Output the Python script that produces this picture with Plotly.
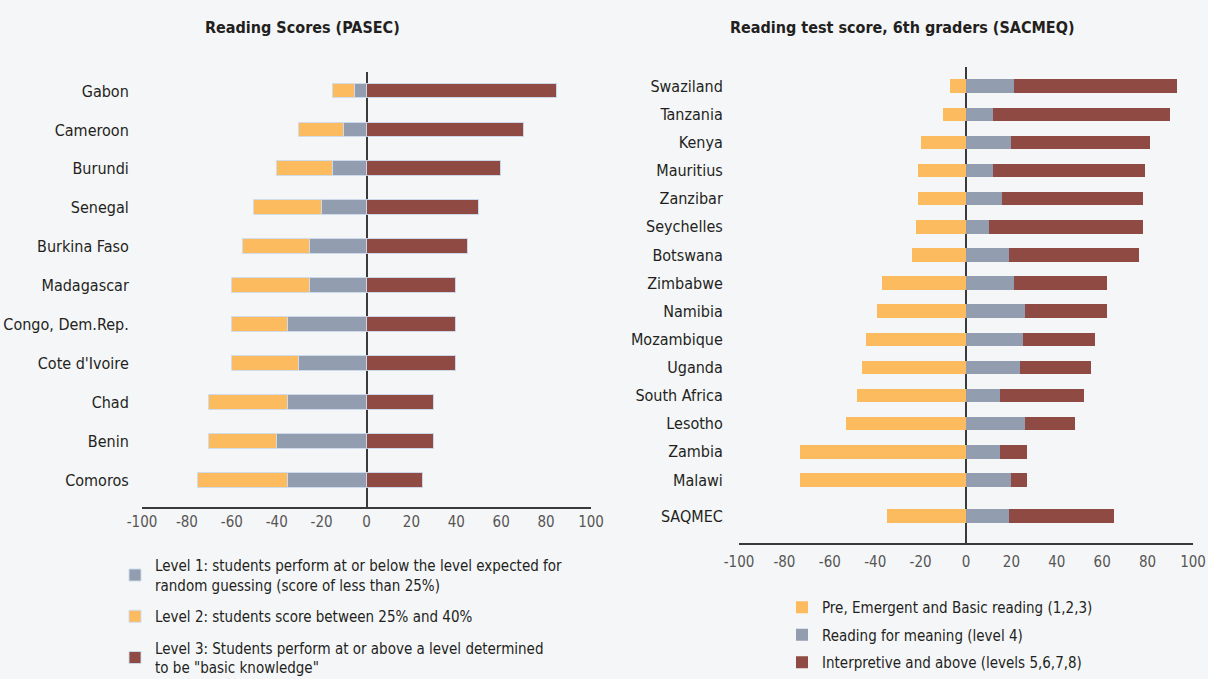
import plotly.graph_objects as go

# ---- Data: PASEC ----
pasec_countries = ["Gabon", "Cameroon", "Burundi", "Senegal", "Burkina Faso", "Madagascar",
                   "Congo, Dem.Rep.", "Cote d'Ivoire", "Chad", "Benin", "Comoros"]
pasec_level1 = [5, 10, 15, 20, 25, 25, 35, 30, 35, 40, 35]
pasec_level2 = [10, 20, 25, 30, 30, 35, 25, 30, 35, 30, 40]
pasec_level3 = [85, 70, 60, 50, 45, 40, 40, 40, 30, 30, 25]

# ---- Data: SACMEQ ----
sacmeq_countries = ["Swaziland", "Tanzania", "Kenya", "Mauritius", "Zanzibar", "Seychelles",
                    "Botswana", "Zimbabwe", "Namibia", "Mozambique", "Uganda", "South Africa",
                    "Lesotho", "Zambia", "Malawi", "SAQMEC"]
sacmeq_basic = [7, 10, 20, 21, 21, 22, 24, 37, 39, 44, 46, 48, 53, 73, 73, 35]
sacmeq_meaning = [21, 12, 20, 12, 16, 10, 19, 21, 26, 25, 24, 15, 26, 15, 20, 19]
sacmeq_interp = [72, 78, 61, 67, 62, 68, 57, 41, 36, 32, 31, 37, 22, 12, 7, 46]

x_ticks = [-100, -80, -60, -40, -20, 0, 20, 40, 60, 80, 100]

YELLOW = "#FDBB60"
GREY = "#939DB0"
RED = "#8F4A44"
BG = "#F5F6F8"
FONT = "DejaVu Sans Condensed, Roboto, sans-serif"
TXT = "#231F20"
OUTLINE = dict(color="rgba(205,220,238,0.9)", width=1)

W, H = 1208, 679

pasec_y = list(range(len(pasec_countries)))
sacmeq_y = [i + (0.28 if c == "SAQMEC" else 0) for i, c in enumerate(sacmeq_countries)]

fig = go.Figure()

# Left panel traces
fig.add_trace(go.Bar(
    y=pasec_y, x=[-v for v in pasec_level1], orientation="h", width=0.38,
    marker=dict(color=GREY, line=OUTLINE), xaxis="x", yaxis="y", legend="legend",
    legendgroup="a1",
    name="Level 1: students perform at or below the level expected for<br>random guessing (score of less than 25%)"))
fig.add_trace(go.Bar(
    y=pasec_y, x=[-v for v in pasec_level2], orientation="h", width=0.38,
    marker=dict(color=YELLOW, line=OUTLINE), xaxis="x", yaxis="y", legend="legend",
    legendgroup="a2",
    name="Level 2: students score between 25% and 40%"))
fig.add_trace(go.Bar(
    y=pasec_y, x=pasec_level3, orientation="h", width=0.38,
    marker=dict(color=RED, line=OUTLINE), xaxis="x", yaxis="y", legend="legend",
    legendgroup="a3",
    name="Level 3: Students perform at or above a level determined<br>to be \"basic knowledge\""))

# Right panel traces
fig.add_trace(go.Bar(
    y=sacmeq_y, x=[-v for v in sacmeq_basic], orientation="h", width=0.48,
    marker=dict(color=YELLOW, line=dict(width=0)), xaxis="x2", yaxis="y2", legend="legend2",
    legendgroup="b1", name="Pre, Emergent and Basic reading (1,2,3)"))
fig.add_trace(go.Bar(
    y=sacmeq_y, x=sacmeq_meaning, orientation="h", width=0.48,
    marker=dict(color=GREY, line=dict(width=0)), xaxis="x2", yaxis="y2", legend="legend2",
    legendgroup="b2", name="Reading for meaning (level 4)"))
fig.add_trace(go.Bar(
    y=sacmeq_y, x=sacmeq_interp, orientation="h", width=0.48,
    marker=dict(color=RED, line=dict(width=0)), xaxis="x2", yaxis="y2", legend="legend2",
    legendgroup="b3", name="Interpretive and above (levels 5,6,7,8)"))

def px_x(p):
    return p / W

def px_y(p):
    return 1 - p / H

xaxis_common = dict(
    range=[-100, 100], tickvals=x_ticks, ticktext=[str(t) for t in x_ticks],
    showgrid=False, zeroline=True, zerolinecolor="#3a3a3a", zerolinewidth=1.5,
    showline=True, linecolor="#3a3a3a", linewidth=1.5, ticks="", automargin=False,
    tickfont=dict(family=FONT, size=15, color="#555555"), fixedrange=True,
)
yaxis_common = dict(
    showgrid=False, zeroline=False, showline=False, ticks="outside", automargin=False,
    tickcolor="rgba(0,0,0,0)", tickfont=dict(family=FONT, size=16, color=TXT),
    fixedrange=True,
)

fig.update_layout(
    width=W, height=H,
    margin=dict(l=0, r=0, t=0, b=0, autoexpand=False),
    paper_bgcolor=BG, plot_bgcolor=BG,
    barmode="relative", bargap=0,
    font=dict(family=FONT, color=TXT),
    xaxis=dict(domain=[px_x(142), px_x(591)], anchor="y", **xaxis_common),
    yaxis=dict(domain=[px_y(507), px_y(72)], anchor="x", range=[10.69, -0.49],
               tickvals=pasec_y, ticktext=pasec_countries, ticklen=9, **yaxis_common),
    xaxis2=dict(domain=[px_x(739), px_x(1193)], anchor="y2", ticklabelstandoff=4,
                **xaxis_common),
    yaxis2=dict(domain=[px_y(543), px_y(67)], anchor="x2", range=[16.24, -0.68],
                tickvals=sacmeq_y, ticktext=sacmeq_countries, ticklen=12, **yaxis_common),
    legend=dict(x=px_x(115), y=px_y(549), xanchor="left", yanchor="top",
                bgcolor="rgba(0,0,0,0)", font=dict(family=FONT, size=15, color=TXT),
                traceorder="grouped", tracegroupgap=9, itemwidth=30),
    legend2=dict(x=px_x(782), y=px_y(591), xanchor="left", yanchor="top",
                 bgcolor="rgba(0,0,0,0)", font=dict(family=FONT, size=15, color=TXT),
                 traceorder="grouped", tracegroupgap=5, itemwidth=30),
    annotations=[
        dict(text="<b>Reading Scores (PASEC)</b>", x=px_x(302), y=px_y(28),
             xref="paper", yref="paper", showarrow=False, xanchor="center", yanchor="middle",
             font=dict(family=FONT, size=16, color=TXT)),
        dict(text="<b>Reading test score, 6th graders (SACMEQ)</b>", x=px_x(902), y=px_y(28),
             xref="paper", yref="paper", showarrow=False, xanchor="center", yanchor="middle",
             font=dict(family=FONT, size=16, color=TXT)),
    ],
    showlegend=True,
)

fig.write_html("out.html", config={"displayModeBar": False},
               post_script="document.body.style.margin='0';document.body.style.overflow='hidden';")
